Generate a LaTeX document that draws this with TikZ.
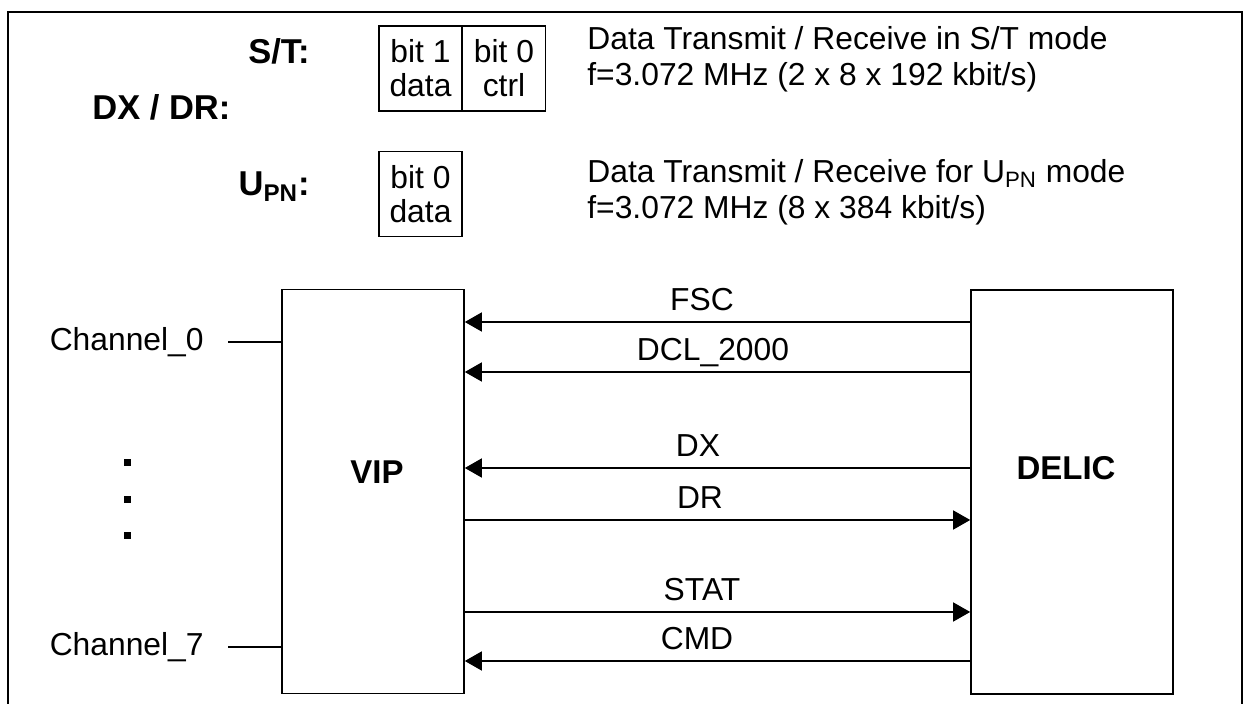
\documentclass[tikz,border=0pt]{standalone}
\usepackage{fontspec}
\setmainfont{Liberation Sans}
\usetikzlibrary{arrows.meta}
\tikzset{
	blockstyle/.style={rectangle,draw=black,line width=0.8pt,minimum width=91pt,minimum height=202pt,inner sep=0pt},
	bitstyle/.style={rectangle,draw=black,line width=0.7pt,minimum width=41.5pt,minimum height=42.5pt,align=center,inner sep=0pt,font=\fontsize{15.9}{17}\selectfont},
	namestyle/.style={font=\fontsize{16.5}{20}\selectfont\bfseries,inner sep=0pt},
	modestyle/.style={font=\fontsize{17.25}{20}\selectfont\bfseries,inner sep=0pt},
	textstyle/.style={font=\fontsize{15.9}{18}\selectfont,inner sep=0pt},
	sigstyle/.style={line width=0.75pt,-{Triangle[length=8.5pt,width=9.5pt]}},
	dotstyle/.style={rectangle,fill=black,minimum size=3.5pt,inner sep=0pt}
}
\begin{document}
\begin{tikzpicture}[x=0.5pt,y=-0.5pt]
		\useasboundingbox (0,0) rectangle (1244,704);
		\draw[line width=1pt] (8,704) -- (8,12) -- (1242,12) -- (1242,704);
		% frame formats
		\node[modestyle,anchor=base east] (st) at (310,64) {S/T:};
		\node[modestyle,anchor=base west] (dxdr) at (92,120) {DX / DR:};
		\node[modestyle,anchor=base east] (upn) at (310,196) {U\textsubscript{PN}:};
		\node[bitstyle] (st1) at (420.5,68.5) {bit 1\\data};
		\node[bitstyle] (st0) at (504,68.5) {bit 0\\ctrl};
		\node[bitstyle] (upn0) at (420.5,194) {bit 0\\data};
		\node[textstyle,anchor=west,align=left] (sttext) at (587,59) {Data Transmit / Receive in S/T mode\\f=3.072 MHz (2 x 8 x 192 kbit/s)};
		\node[textstyle,anchor=west,align=left] (upntext) at (587,192) {Data Transmit / Receive for U\textsubscript{PN} mode\\f=3.072 MHz (8 x 384 kbit/s)};
		% blocks
		\node[blockstyle] (vip) at (373,491.5) {};
		\node[blockstyle,minimum width=101pt] (delic) at (1072,492) {};
		\node[namestyle] (viptext) at (377,472) {VIP};
		\node[namestyle] (delictext) at (1066,468) {DELIC};
		% channels
		\node[textstyle,anchor=east] (ch0) at (204,342) {Channel\_0};
		\node[textstyle,anchor=east] (ch7) at (204,647) {Channel\_7};
		\node[dotstyle] (dot1) at (127,463) {};
		\node[dotstyle] (dot2) at (127,500) {};
		\node[dotstyle] (dot3) at (127,536) {};
		\draw[line width=0.75pt] ([xshift=12pt]ch0.east) -- (vip.west |- ch0.east);
		\draw[line width=0.75pt] ([xshift=12pt]ch7.east) -- (vip.west |- ch7.east);
		% signals
		\node[textstyle,anchor=base] (fsc) at (702,311) {FSC};
		\node[textstyle,anchor=base] (dcl) at (713,361) {DCL\_2000};
		\node[textstyle,anchor=base] (dx) at (698,457) {DX};
		\node[textstyle,anchor=base] (dr) at (700,509) {DR};
		\node[textstyle,anchor=base] (stat) at (702,601) {STAT};
		\node[textstyle,anchor=base] (cmd) at (697,650) {CMD};
		\draw[sigstyle] (delic.west |- 0,322) -- (vip.east |- 0,322);
		\draw[sigstyle] (delic.west |- 0,372) -- (vip.east |- 0,372);
		\draw[sigstyle] (delic.west |- 0,468) -- (vip.east |- 0,468);
		\draw[sigstyle] (vip.east |- 0,520) -- (delic.west |- 0,520);
		\draw[sigstyle] (vip.east |- 0,612) -- (delic.west |- 0,612);
		\draw[sigstyle] (delic.west |- 0,661) -- (vip.east |- 0,661);
\end{tikzpicture}
\end{document}
